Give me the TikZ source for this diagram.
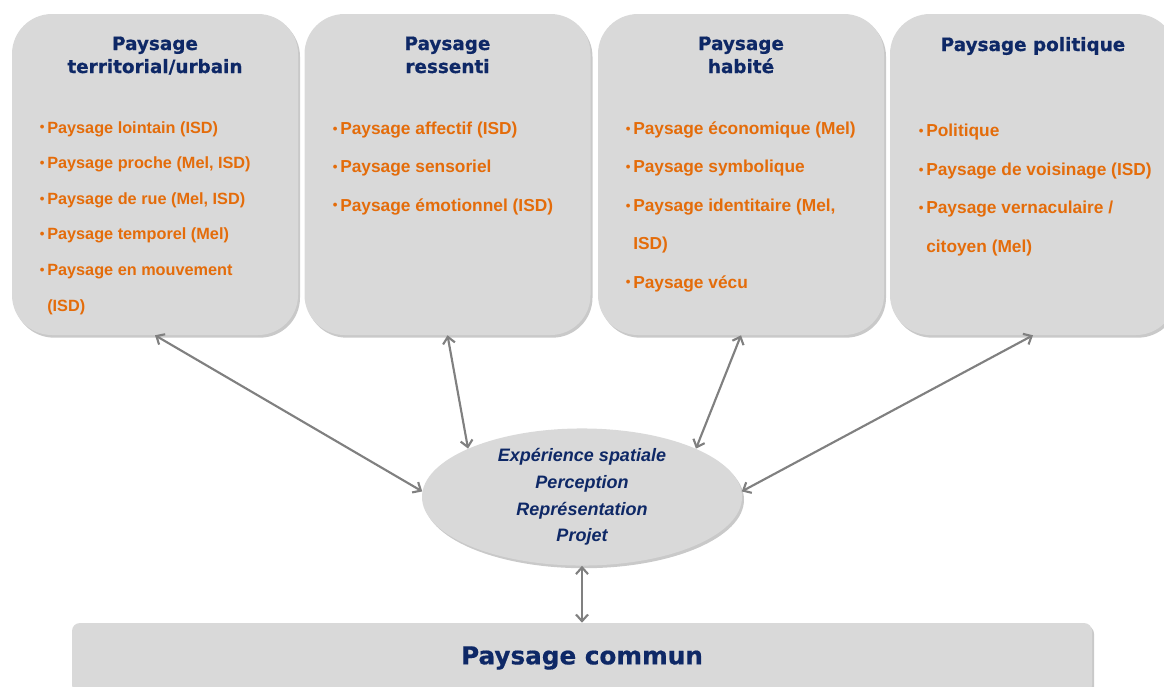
\documentclass[tikz,border=0pt]{standalone}
\usepackage{fontspec}
\setmainfont{Liberation Sans}
\newfontfamily\headfont[BoldFeatures={FakeBold=0.6}]{DejaVu Sans}
\usetikzlibrary{shapes.geometric,shadows,arrows.meta}

\definecolor{panelgray}{RGB}{217,217,217}
\definecolor{navy}{RGB}{14,40,102}
\definecolor{itemorange}{RGB}{228,108,10}
\definecolor{linkgray}{RGB}{128,128,128}

\newcommand\bul{\llap{\raisebox{0.8pt}{\fontsize{10}{10}\selectfont •}\hspace{2pt}}}

\tikzset{
  shade/.style={drop shadow={shadow xshift=1.5pt,shadow yshift=-2pt,opacity=.3,fill=black!70}},
  panel/.style={fill=panelgray, rounded corners=30pt, minimum width=214.5pt, minimum height=240.75pt, shade},
  head/.style={text=navy, font=\headfont\bfseries\fontsize{13.8}{17.25}\selectfont, align=center, anchor=base, inner sep=0pt},
  items/.style={text=itemorange, font=\bfseries\fontsize{13}{28.8}\selectfont, align=left, anchor=base west, inner sep=0pt},
  link/.style={linkgray, line width=1.6pt, {Straight Barb[length=5pt,width=9pt]}-{Straight Barb[length=5pt,width=9pt]}},
}

\begin{document}
\begin{tikzpicture}[x=0.75pt,y=-0.75pt]
\useasboundingbox (0,0) rectangle (1164,686);

% the four panels
\node[panel] (tu) at (155,174.5) {};
\node[panel] (rs) at (447.5,174.5) {};
\node[panel] (hb) at (741,174.5) {};
\node[panel] (pl) at (1033,174.5) {};

% headings (anchored on their last line)
\node[head] (tuhead) at (155,73) {Paysage\\territorial/urbain};
\node[head] (rshead) at (447.5,73) {Paysage\\ressenti};
\node[head] (hbhead) at (741,73) {Paysage\\habité};
\node[head] (plhead) at (1033,51) {Paysage politique};

\node[items, font=\bfseries\fontsize{12.2}{26.7}\selectfont] (tulist) at (47,311) {\bul Paysage lointain (ISD)\\
  \bul Paysage proche (Mel, ISD)\\
  \bul Paysage de rue (Mel, ISD)\\
  \bul Paysage temporel (Mel)\\
  \bul Paysage en mouvement\\
  (ISD)};
\node[items] (rslist) at (340,211) {\bul Paysage affectif (ISD)\\
  \bul Paysage sensoriel\\
  \bul Paysage émotionnel (ISD)};
\node[items] (hblist) at (633,288) {\bul Paysage économique (Mel)\\
  \bul Paysage symbolique\\
  \bul Paysage identitaire (Mel,\\
  ISD)\\
  \bul Paysage vécu};
\node[items] (pllist) at (926,252) {\bul Politique\\
  \bul Paysage de voisinage (ISD)\\
  \bul Paysage vernaculaire /\\
  citoyen (Mel)};

% centre and common landscape
\node[ellipse, fill=panelgray, minimum width=240pt, minimum height=90pt, shade,
  text=navy, font=\bfseries\itshape\fontsize{13.5}{20}\selectfont, align=center, inner sep=0pt]
  (exp) at (582,497) {Expérience spatiale\\Perception\\Représentation\\Projet};
\node[fill=panelgray, rounded corners=6pt, minimum width=765pt, minimum height=52.5pt, shade,
  text=navy, font=\headfont\bfseries\fontsize{18.5}{22}\selectfont]
  (com) at (582,658) {Paysage commun};

\draw[link] (tu.south) -- (exp.178);
\draw[link] (rs.south) -- (exp.157);
\draw[link] (hb.south) -- (exp.23);
\draw[link] (pl.south) -- (exp.2);
\draw[link] (exp.south) -- (com.north);
\end{tikzpicture}
\end{document}
